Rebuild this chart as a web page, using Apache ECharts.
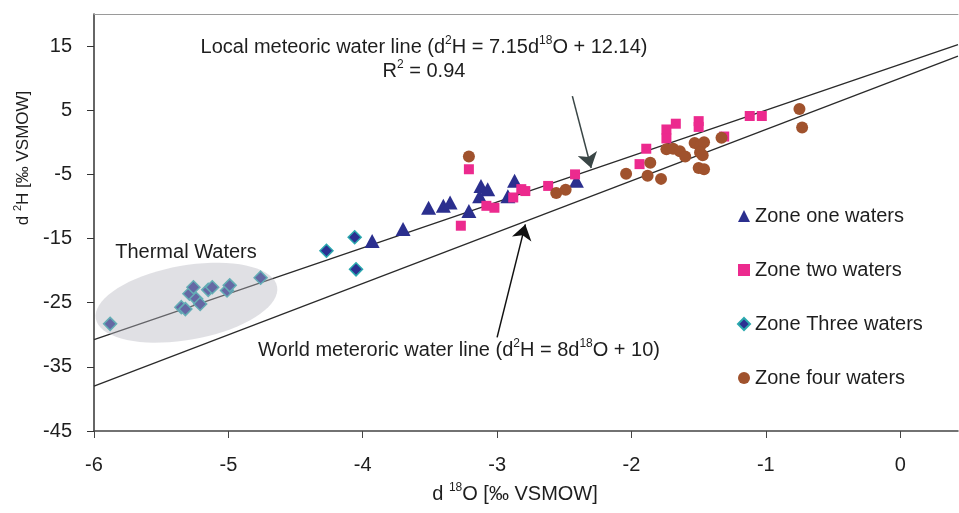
<!DOCTYPE html>
<html>
<head>
<meta charset="utf-8">
<script src="https://cdn.jsdelivr.net/npm/echarts@6/dist/echarts.min.js"></script>
<style>html,body{margin:0;background:#fff}#chart{width:959px;height:513px}</style>
</head>
<body>
<div id="chart"></div>
<script>
// --- data (d18O, d2H) ---

const zoneOne = [[-3.93,-15.4],[-3.70,-13.5],[-3.51,-10.2],[-3.40,-9.9],[-3.35,-9.4],[-3.21,-10.7],
    [-3.12,-6.8],[-3.07,-7.3],[-3.13,-8.4],[-2.92,-8.4],[-2.87,-6.0],[-2.41,-6.0]];

const zoneTwo = [[-3.21,-4.2],[-3.27,-13.0],[-3.08,-9.9],[-3.02,-10.2],[-2.88,-8.6],[-2.82,-7.3],[-2.79,-7.6],
    [-2.62,-6.8],[-2.42,-5.0],[-1.94,-3.4],[-1.89,-1.0],[-1.74,2.0],[-1.74,0.6],[-1.67,2.9],[-1.50,3.3],
    [-1.50,2.4],[-1.31,0.9],[-1.12,4.1],[-1.03,4.1]];

const zoneThree = [[-4.27,-16.9],[-4.06,-14.8],[-4.05,-19.8],
    // thermal waters
    [-5.88,-28.3],[-5.35,-25.7],[-5.32,-26.0],[-5.29,-23.6],[-5.26,-22.6],[-5.24,-24.4],[-5.21,-25.2],
    [-5.15,-23.0],[-5.12,-22.6],[-5.01,-23.1],[-4.99,-22.3],[-4.76,-21.1]];

const zoneFour = [[-3.21,-2.2],[-2.56,-7.9],[-2.49,-7.4],[-2.04,-4.9],[-1.86,-3.2],[-1.88,-5.2],[-1.78,-5.7],
    [-1.74,-1.1],[-1.69,-1.0],[-1.64,-1.4],[-1.60,-2.2],[-1.53,-0.1],[-1.49,-0.6],[-1.46,0.0],[-1.49,-1.6],
    [-1.47,-2.0],[-1.50,-4.0],[-1.46,-4.2],[-1.33,0.7],[-0.75,5.2],[-0.73,2.3]];

// water lines: d2H = slope * d18O + intercept
const lineX = [-6, 0.43];
const lmwl = { slope: 7.15, intercept: 12.14 };
const wmwl = { slope: 8, intercept: 10 };

// annotation arrows [start, tip]
const lmwlArrow = [[-2.44, 7.2], [-2.30, -4.0]];
const wmwlArrow = [[-3.00, -30.4], [-2.79, -12.8]];

// thermal waters ellipse: centre, half axes (data units), tilt in degrees
const thermalCentre = [-5.312, -25.0];
const thermalHalf = [0.685, 5.8];
const thermalTilt = 10;

const FONT = '"Liberation Sans", Arial, sans-serif';
const TXT = '#1e1e1e';

function richStyle(size) {
    return {
        n: { fontSize: size, fontFamily: FONT, fill: TXT, lineHeight: size + 4 },
        s: { fontSize: Math.round(size * 0.62), fontFamily: FONT, fill: TXT, verticalAlign: 'top', lineHeight: 12 }
    };
}

function label(x, y, text, size, rot) {
    return {
        type: 'text', x: x, y: y, rotation: rot || 0, z: 100,
        style: { text: text, rich: richStyle(size), align: 'center', verticalAlign: 'middle' }
    };
}

const chart = echarts.init(document.getElementById('chart'));

chart.setOption({
    animation: false,
    grid: { left: 94, right: 1, top: 14, bottom: 82 },
    legend: {
        orient: 'vertical', left: 732, top: 201, itemGap: 34,
        itemWidth: 12, itemHeight: 12,
        textStyle: { fontSize: 20, fontFamily: FONT, color: TXT, lineHeight: 20 },
        data: ['Zone one waters', 'Zone two waters', 'Zone Three waters', 'Zone four waters']
    },
    xAxis: [{
        type: 'value', min: -6, max: 0.43, interval: 1,
        axisLine: { onZero: false, lineStyle: { color: '#444', width: 1.5 } },
        axisTick: { length: 7, lineStyle: { color: '#444' } },
        axisLabel: { fontSize: 20, fontFamily: FONT, color: TXT, margin: 24, showMaxLabel: false },
        splitLine: { show: false }
    }, {
        type: 'value', position: 'top', min: -6, max: 0.43,
        axisLine: { onZero: false, lineStyle: { color: '#9a9a9a' } },
        axisTick: { show: false }, axisLabel: { show: false }, splitLine: { show: false }
    }],
    yAxis: {
        type: 'value', min: -45, max: 20, interval: 10,
        axisLine: { onZero: false, lineStyle: { color: '#333', width: 1.5 } },
        axisTick: { length: 7, lineStyle: { color: '#333' } },
        axisLabel: { fontSize: 20, fontFamily: FONT, color: TXT, margin: 22, showMaxLabel: false },
        splitLine: { show: false }
    },
    graphic: [
        label(424, 47, '{n|Local meteoric water line (d}{s|2}{n|H = 7.15d}{s|18}{n|O + 12.14)}', 20),
        label(424, 71, '{n|R}{s|2}{n| = 0.94}', 20),
        label(459, 350, '{n|World meteroric water line (d}{s|2}{n|H = 8d}{s|18}{n|O + 10)}', 20),
        label(186, 252, '{n|Thermal Waters}', 20),
        label(515, 494, '{n|d }{s|18}{n|O [‰ VSMOW]}', 20),
        label(23, 158, '{n|d }{s|2}{n|H [‰ VSMOW]}', 17, Math.PI / 2)
    ],
    series: [
        {
            type: 'line', name: 'LMWL', silent: true, symbol: 'none', z: 1,
            data: lineX.map(x => [x, lmwl.slope * x + lmwl.intercept]),
            lineStyle: { color: '#2a2a2a', width: 1.3 }
        },
        {
            type: 'line', name: 'WMWL', silent: true, symbol: 'none', z: 1,
            data: lineX.map(x => [x, wmwl.slope * x + wmwl.intercept]),
            lineStyle: { color: '#2a2a2a', width: 1.3 }
        },
        {
            type: 'scatter', name: 'Zone one waters', symbol: 'triangle', symbolSize: [15, 14], z: 3,
            data: zoneOne, itemStyle: { color: '#2b2f8e', opacity: 1 }
        },
        {
            type: 'scatter', name: 'Zone two waters', symbol: 'rect', symbolSize: 10, z: 3,
            data: zoneTwo, itemStyle: { color: '#ec2a8e', opacity: 1 }
        },
        {
            type: 'scatter', name: 'Zone Three waters', symbol: 'diamond', symbolSize: 13, z: 3,
            data: zoneThree, itemStyle: { color: '#2b3192', borderColor: '#2aa8ae', borderWidth: 1.5, opacity: 1 }
        },
        {
            type: 'scatter', name: 'Zone four waters', symbol: 'circle', symbolSize: 12, z: 3,
            data: zoneFour, itemStyle: { color: '#a0522d', opacity: 1 }
        },
        {
            type: 'custom', name: 'thermal', silent: true, z: 5,
            data: [thermalCentre],
            renderItem: function (params, api) {
                const c = api.coord([api.value(0), api.value(1)]);
                const a = api.size([thermalHalf[0], 0])[0];
                const b = api.size([0, thermalHalf[1]])[1];
                const th = thermalTilt * Math.PI / 180;
                const pts = [];
                for (let i = 0; i < 72; i++) {
                    const t = i / 72 * Math.PI * 2;
                    const ex = a * Math.cos(t), ey = b * Math.sin(t);
                    pts.push([c[0] + ex * Math.cos(th) + ey * Math.sin(th),
                              c[1] - ex * Math.sin(th) + ey * Math.cos(th)]);
                }
                return { type: 'polygon', shape: { points: pts }, style: { fill: 'rgba(180,180,190,0.42)' } };
            }
        },
        {
            type: 'lines', coordinateSystem: 'cartesian2d', silent: true, z: 6,
            symbol: ['none', 'arrow'], symbolSize: 15,
            data: [
                { coords: lmwlArrow, lineStyle: { color: '#3a4646' } },
                { coords: wmwlArrow, lineStyle: { color: '#111' } }
            ],
            lineStyle: { width: 1.5, opacity: 1 }
        }
    ]
});
</script>
</body>
</html>
